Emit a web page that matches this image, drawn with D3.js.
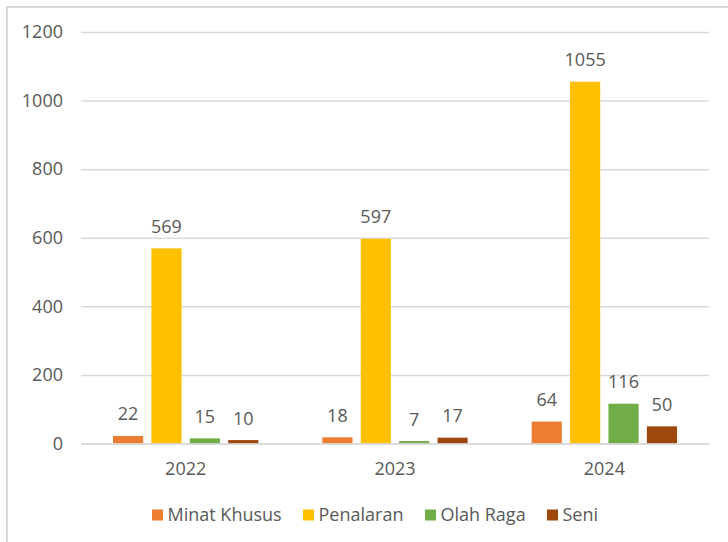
<!DOCTYPE html>
<html>
<head>
<meta charset="utf-8">
<script src="https://cdn.jsdelivr.net/npm/d3@7"></script>
<style>
  body { margin: 0; background: #fff; }
  text { font-family: "Open Sans", "Liberation Sans", sans-serif; fill: #595959; }
</style>
</head>
<body>
<svg id="chart"></svg>
<script>
const width = 728;
const height = 542;

const years = ['2022', '2023', '2024'];
const seriesNames = ['Minat Khusus', 'Penalaran', 'Olah Raga', 'Seni'];
const minatKhusus = [22, 18, 64];
const penalaran = [569, 597, 1055];
const olahRaga = [15, 7, 116];
const seni = [10, 17, 50];
const yTicks = [0, 200, 400, 600, 800, 1000, 1200];
const colors = ['#ED7D31', '#FFC000', '#70AD47', '#9E480E'];

const seriesValues = [minatKhusus, penalaran, olahRaga, seni];

const plot = { left: 81, right: 709, top: 32, bottom: 443.5 };
const fontSize = '18px';

const svg = d3.select('#chart')
    .attr('width', width)
    .attr('height', height);

// chart frame (only top and left edge inside the picture)
svg.append('rect')
    .attr('x', 7)
    .attr('y', 7)
    .attr('width', 740)
    .attr('height', 560)
    .attr('fill', 'none')
    .attr('stroke', '#d9d9d9')
    .attr('stroke-width', 2);

const x = d3.scaleBand()
    .domain(years)
    .range([plot.left, plot.right]);

const xInner = d3.scaleBand()
    .domain(seriesNames)
    .range([32, x.bandwidth() - 32])
    .paddingInner(0.215);

const y = d3.scaleLinear()
    .domain([0, 1200])
    .range([plot.bottom, plot.top]);

// gridlines + y labels
const yAxis = svg.append('g')
    .attr('transform', `translate(${plot.left}, 0)`)
    .call(d3.axisLeft(y)
        .tickValues(yTicks)
        .tickFormat(d3.format('d'))
        .tickSize(-(plot.right - plot.left))
        .tickPadding(18));
yAxis.select('.domain').remove();
yAxis.selectAll('.tick line').attr('stroke', '#d9d9d9').attr('stroke-width', 1.5);
yAxis.selectAll('.tick text').style('font-size', fontSize).attr('fill', '#595959');

// bars
const groups = svg.append('g')
    .selectAll('g')
    .data(years)
    .enter()
    .append('g')
    .attr('transform', d => `translate(${x(d)}, 0)`);

const bars = groups.selectAll('rect')
    .data((yr, i) => seriesNames.map((s, j) => ({ series: s, value: seriesValues[j][i], color: colors[j] })))
    .enter();

bars.append('rect')
    .attr('x', d => xInner(d.series))
    .attr('y', d => y(d.value))
    .attr('width', xInner.bandwidth())
    .attr('height', d => y(0) - y(d.value))
    .attr('fill', d => d.color);

bars.append('text')
    .attr('x', d => xInner(d.series) + xInner.bandwidth() / 2)
    .attr('y', d => y(d.value) - 15.5)
    .attr('text-anchor', 'middle')
    .style('font-size', fontSize)
    .text(d => d.value);

// x axis
const xAxis = svg.append('g')
    .attr('transform', `translate(0, ${plot.bottom})`)
    .call(d3.axisBottom(x).tickSize(0).tickPadding(18.5));
xAxis.select('.domain').attr('stroke', '#d9d9d9').attr('stroke-width', 1.5);
xAxis.selectAll('.tick text').style('font-size', fontSize).attr('fill', '#595959');

// legend
const legendX = [152, 303, 425, 547];
const legend = svg.append('g')
    .selectAll('g')
    .data(seriesNames)
    .enter()
    .append('g')
    .attr('transform', (d, i) => `translate(${legendX[i]}, 515)`);

legend.append('rect')
    .attr('x', 0)
    .attr('y', -5.5)
    .attr('width', 11)
    .attr('height', 11)
    .attr('fill', (d, i) => colors[i]);

legend.append('text')
    .attr('x', 15.5)
    .attr('y', 6)
    .style('font-size', fontSize)
    .text(d => d);
</script>
</body>
</html>
